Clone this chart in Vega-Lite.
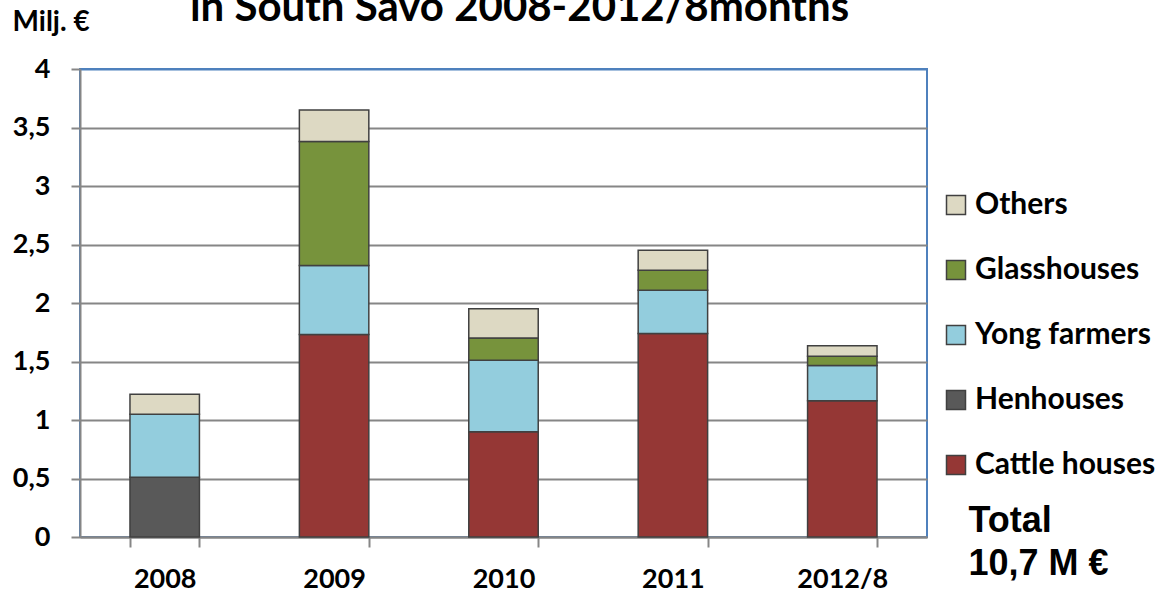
{
  "$schema": "https://vega.github.io/schema/vega-lite/v6.json",
  "width": 847,
  "height": 468,
  "autosize": {"type": "none"},
  "padding": {"left": 80, "top": 69, "right": 229, "bottom": 59},
  "background": "white",
  "title": {
    "text": "in South Savo 2008-2012/8months",
    "font": "Lato",
    "fontSize": 42,
    "fontWeight": "bold",
    "color": "black",
    "anchor": "middle",
    "frame": "group",
    "baseline": "alphabetic",
    "offset": 0,
    "dy": 55,
    "dx": 16
  },
  "data": {
    "values": [
      {"year": "2008", "type": "Henhouses", "value": 0.51},
      {"year": "2008", "type": "Yong farmers", "value": 0.54},
      {"year": "2008", "type": "Others", "value": 0.17},
      {"year": "2009", "type": "Cattle houses", "value": 1.73},
      {"year": "2009", "type": "Yong farmers", "value": 0.59},
      {"year": "2009", "type": "Glasshouses", "value": 1.06},
      {"year": "2009", "type": "Others", "value": 0.27},
      {"year": "2010", "type": "Cattle houses", "value": 0.9},
      {"year": "2010", "type": "Yong farmers", "value": 0.61},
      {"year": "2010", "type": "Glasshouses", "value": 0.19},
      {"year": "2010", "type": "Others", "value": 0.25},
      {"year": "2011", "type": "Cattle houses", "value": 1.74},
      {"year": "2011", "type": "Yong farmers", "value": 0.37},
      {"year": "2011", "type": "Glasshouses", "value": 0.17},
      {"year": "2011", "type": "Others", "value": 0.17},
      {"year": "2012/8", "type": "Cattle houses", "value": 1.165},
      {"year": "2012/8", "type": "Yong farmers", "value": 0.3},
      {"year": "2012/8", "type": "Glasshouses", "value": 0.08},
      {"year": "2012/8", "type": "Others", "value": 0.09}
    ]
  },
  "transform": [
    {"calculate": "indexof(['Cattle houses', 'Henhouses', 'Yong farmers', 'Glasshouses', 'Others'], datum.type)", "as": "stack_order"}
  ],
  "mark": {"type": "bar", "stroke": "#404040", "strokeWidth": 1.5},
  "encoding": {
    "x": {
      "field": "year",
      "type": "nominal",
      "sort": null,
      "scale": {"paddingInner": 0.59, "paddingOuter": 0.295},
      "axis": {
        "title": ["Total", "10,7 M €"],
        "titleX": 888,
        "titleY": -6,
        "titleAlign": "left",
        "titleAnchor": null,
        "titleBaseline": "alphabetic",
        "titleFont": "Liberation Sans",
        "titleFontSize": 36,
        "titleFontWeight": "bold",
        "titleColor": "black",
        "titleLineHeight": 43,
        "labelAngle": 0,
        "labelFont": "Lato",
        "labelFontSize": 27,
        "labelFontWeight": "bold",
        "labelColor": "black",
        "labelPadding": 19,
        "tickBand": "extent",
        "tickSize": 10,
        "tickColor": "#868686",
        "tickWidth": 2,
        "domainColor": "#868686",
        "domainWidth": 2
      }
    },
    "y": {
      "field": "value",
      "type": "quantitative",
      "stack": "zero",
      "scale": {"domain": [0, 4], "nice": false},
      "axis": {
        "values": [0, 0.5, 1, 1.5, 2, 2.5, 3, 3.5, 4],
        "labelExpr": "replace(format(datum.value, '.1~f'), '.', ',')",
        "labelFont": "Lato",
        "labelFontSize": 27,
        "labelFontWeight": "bold",
        "labelColor": "black",
        "labelPadding": 21,
        "tickSize": 9,
        "tickColor": "#868686",
        "tickWidth": 2,
        "domainColor": "#868686",
        "domainWidth": 2,
        "gridColor": {"condition": {"test": "datum.value === 4", "value": "#4F81BD"}, "value": "#868686"},
        "gridWidth": 2,
        "title": "Milj. €",
        "titleAngle": 0,
        "titleX": -68,
        "titleY": -39,
        "titleAlign": "left",
        "titleBaseline": "alphabetic",
        "titleFont": "Lato",
        "titleFontSize": 28,
        "titleFontWeight": "bold",
        "titleColor": "black"
      }
    },
    "order": {"field": "stack_order", "type": "quantitative", "sort": "ascending"},
    "color": {
      "field": "type",
      "type": "nominal",
      "scale": {
        "domain": ["Cattle houses", "Henhouses", "Yong farmers", "Glasshouses", "Others"],
        "range": ["#953735", "#595959", "#93CDDD", "#77933C", "#DDD9C3"]
      },
      "legend": {
        "title": null,
        "values": ["Others", "Glasshouses", "Yong farmers", "Henhouses", "Cattle houses"],
        "orient": "none",
        "legendX": 861,
        "legendY": 121,
        "symbolType": "square",
        "symbolSize": 361,
        "symbolStrokeColor": "#404040",
        "symbolStrokeWidth": 1.5,
        "symbolOpacity": 1,
        "labelFont": "Lato",
        "labelFontSize": 30,
        "labelFontWeight": "bold",
        "labelColor": "black",
        "labelOffset": 4,
        "rowPadding": 35,
        "labelLimit": 300
      }
    }
  },
  "config": {"view": {"stroke": "#4F81BD", "strokeWidth": 2}}
}
